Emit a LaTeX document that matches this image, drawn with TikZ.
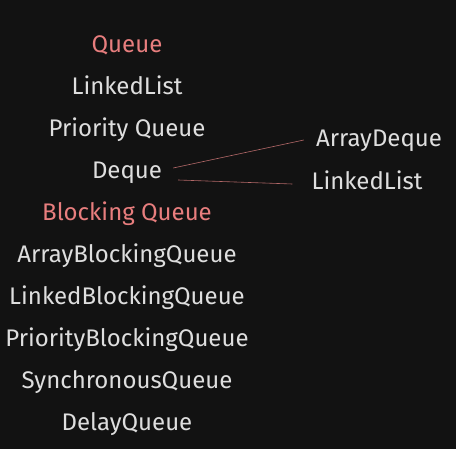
\documentclass[tikz,border=0pt]{standalone}
\usepackage{fontspec}
\setmainfont{Fira Sans}
\usetikzlibrary{positioning}
\definecolor{bgdark}{RGB}{18,18,18}
\definecolor{txtlight}{RGB}{222,222,222}
\definecolor{txtred}{RGB}{232,126,126}
\definecolor{linered}{RGB}{178,104,104}
\tikzset{
  item/.style={text=txtlight, font=\fontsize{24}{28}\selectfont, text height=17pt, text depth=5pt, inner sep=2pt},
  head/.style={item, text=txtred},
  link/.style={draw=linered, line width=0.6pt}
}
\begin{document}
\begin{tikzpicture}[node distance=42pt]
  \fill[bgdark] (0,0) rectangle (456pt,-449pt);
  \useasboundingbox (0,0) rectangle (456pt,-449pt);
  \node[head] (Q) at (127pt,-47pt) {Queue};
  \node[item] (LL) [below of=Q] {LinkedList};
  \node[item] (PQ) [below of=LL] {Priority Queue};
  \node[item] (D) [below of=PQ] {Deque};
  \node[head] (BQ) [below of=D] {Blocking Queue};
  \node[item] (ABQ) [below of=BQ] {ArrayBlockingQueue};
  \node[item] (LBQ) [below of=ABQ] {LinkedBlockingQueue};
  \node[item] (PBQ) [below of=LBQ] {PriorityBlockingQueue};
  \node[item] (SQ) [below of=PBQ] {SynchronousQueue};
  \node[item] (DQ) [below of=SQ] {DelayQueue};
  \node[item] (AD) at (379pt,-141pt) {ArrayDeque};
  \node[item] (DLL) at (367pt,-184pt) {LinkedList};
  \path[link]
    ([xshift=9pt,yshift=5pt]D.east) edge ([xshift=-10pt,yshift=1pt]AD.west)
    ([xshift=14pt,yshift=-7pt]D.east) edge ([xshift=-17pt]DLL.west);
\end{tikzpicture}
\end{document}
